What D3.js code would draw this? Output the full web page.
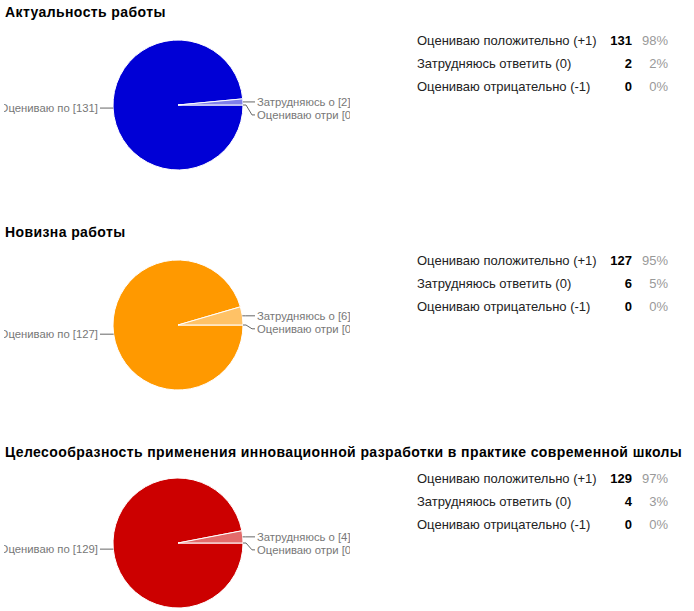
<!DOCTYPE html>
<html>
<head>
<meta charset="utf-8">
<script src="https://cdn.jsdelivr.net/npm/d3@7"></script>
<style>
	body { margin: 0; background: #fff; }
	svg { display: block; font-family: "Liberation Sans", Arial, sans-serif; }
	.title { font-size: 14px; font-weight: bold; fill: #000; letter-spacing: 0.4px; }
	.slice-label { font-size: 11.3px; fill: #777; }
	.leader { fill: none; stroke: #666; stroke-width: 1; }
	.row-label { font-size: 13px; fill: #222; }
	.row-count { font-size: 13px; font-weight: bold; fill: #000; }
	.row-pct { font-size: 13px; fill: #999; }
</style>
</head>
<body>
<div id="chart"></div>
<script>
const questions = [
	"Актуальность работы",
	"Новизна работы",
	"Целесообразность применения инновационной разработки в практике современной школы"
];
const answers = ["Оцениваю положительно (+1)", "Затрудняюсь ответить (0)", "Оцениваю отрицательно (-1)"];
const shortAnswers = ["Оцениваю по", "Затрудняюсь о", "Оцениваю отри"];

const countsActuality = [131, 2, 0];
const countsNovelty = [127, 6, 0];
const countsExpediency = [129, 4, 0];

const pctActuality = ["98%", "2%", "0%"];
const pctNovelty = ["95%", "5%", "0%"];
const pctExpediency = ["97%", "3%", "0%"];

const mainColors = ["#0000d6", "#ff9900", "#cc0000"];
const lightColors = ["#8080ea", "#ffc266", "#e36b6b"];

const allCounts = [countsActuality, countsNovelty, countsExpediency];
const allPcts = [pctActuality, pctNovelty, pctExpediency];

const width = 694, height = 611;
const sectionTop = [0, 220, 438];
const titleY = [17, 17, 19];
const radius = 65;
const cx = 178, cyOffset = 105;

let svg = d3.select("#chart").append("svg")
	.attr("width", width)
	.attr("height", height);

svg.append("defs").append("clipPath")
	.attr("id", "pieClip")
	.append("rect")
	.attr("x", 4).attr("y", 0)
	.attr("width", 346).attr("height", 200);

let pie = d3.pie()
	.sort(null)
	.value(function(d) { return d.value; })
	.startAngle(Math.PI / 2)
	.endAngle(Math.PI / 2 + 2 * Math.PI);

let arc = d3.arc().innerRadius(0).outerRadius(radius);

// rows of the little table on the right
let rowScale = d3.scalePoint()
	.domain(answers)
	.range([45, 91]);

questions.forEach(function(q, qi) {
	let g = svg.append("g")
		.attr("transform", "translate(0," + sectionTop[qi] + ")");

	g.append("text")
		.attr("class", "title")
		.attr("x", 5)
		.attr("y", titleY[qi])
		.text(q);

	let data = answers.map(function(a, i) {
		return { name: a, short: shortAnswers[i], value: allCounts[qi][i], pct: allPcts[qi][i] };
	});
	let arcs = pie(data);
	let color = d3.scaleOrdinal()
		.domain(answers)
		.range([mainColors[qi], lightColors[qi], lightColors[qi]]);

	let pieArea = g.append("g").attr("clip-path", "url(#pieClip)");
	let pg = pieArea.append("g")
		.attr("transform", "translate(" + cx + "," + cyOffset + ")");

	pg.selectAll("path.slice")
		.data(arcs.filter(function(d) { return d.value > 0; }))
		.enter().append("path")
		.attr("class", "slice")
		.attr("d", arc)
		.attr("fill", function(d) { return color(d.data.name); })
		.attr("stroke", "#fff")
		.attr("stroke-width", 1);

	// label positions
	let labels = arcs.map(function(d) {
		let a = (d.startAngle + d.endAngle) / 2;
		let ex = radius * Math.sin(a), ey = -radius * Math.cos(a);
		return { d: d, ex: ex, ey: ey, right: ex > 0, y: ey };
	});
	let rightLabels = labels.filter(function(l) { return l.right; })
		.sort(function(a, b) { return a.ey - b.ey; });
	for (let i = 1; i < rightLabels.length; i++) {
		if (rightLabels[i].y < rightLabels[i - 1].y + 13) rightLabels[i].y = rightLabels[i - 1].y + 13;
	}

	labels.forEach(function(l) {
		let txt = l.d.data.short + " [" + l.d.data.value + "]";
		if (l.right) {
			let pts = [[l.ex, l.ey], [l.ex + 3, l.ey], [radius + 9, l.y], [radius + 12, l.y]];
			pg.append("path").attr("class", "leader").attr("d", d3.line()(pts));
			pg.append("text")
				.attr("class", "slice-label")
				.attr("x", radius + 14)
				.attr("y", l.y)
				.attr("dy", "0.35em")
				.text(txt);
		} else {
			let pts = [[l.ex, l.ey], [-radius - 13, l.y]];
			pg.append("path").attr("class", "leader").attr("d", d3.line()(pts));
			pg.append("text")
				.attr("class", "slice-label")
				.attr("x", -radius - 15)
				.attr("y", l.y)
				.attr("dy", "0.35em")
				.attr("text-anchor", "end")
				.text(txt);
		}
	});

	// table
	let rows = g.selectAll("g.row")
		.data(data)
		.enter().append("g")
		.attr("class", "row")
		.attr("transform", function(d) { return "translate(0," + rowScale(d.name) + ")"; });

	rows.append("text").attr("class", "row-label")
		.attr("x", 417)
		.text(function(d) { return d.name; });
	rows.append("text").attr("class", "row-count")
		.attr("x", 632)
		.attr("text-anchor", "end")
		.text(function(d) { return d.value; });
	rows.append("text").attr("class", "row-pct")
		.attr("x", 668)
		.attr("text-anchor", "end")
		.text(function(d) { return d.pct; });
});
</script>
</body>
</html>
